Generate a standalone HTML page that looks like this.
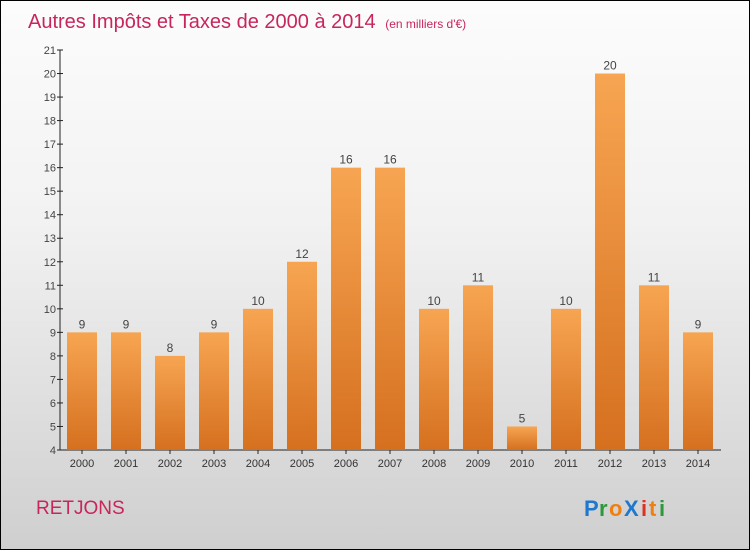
<!DOCTYPE html>
<html><head><meta charset="utf-8"><style>
body{margin:0}
#c{width:748px;height:548px;border:1px solid #000;background:linear-gradient(#fcfcfc,#f2f2f2 40%,#cfcfcf);position:relative;font-family:"Liberation Sans",sans-serif;overflow:hidden}
</style></head><body>
<div id="c">
<svg width="748" height="548" xmlns="http://www.w3.org/2000/svg">
<defs><linearGradient id="g" x1="0" y1="0" x2="0" y2="1"><stop offset="0" stop-color="#f7a552"/><stop offset="1" stop-color="#d5701f"/></linearGradient></defs>
<text x="27" y="27" font-size="20" fill="#c8265a">Autres Impôts et Taxes de 2000 à 2014 <tspan font-size="12" dx="4">(en milliers d'€)</tspan></text>
<text x="35" y="513" font-size="19" fill="#c8265a">RETJONS</text>
<g font-size="22" font-weight="bold"><text x="583" y="515" fill="#1f78d0">P</text><text x="598" y="515" fill="#2a9a3a">r</text><text x="608" y="515" fill="#f07f10">o</text><text x="623" y="515" fill="#1f78d0">X</text><text x="640" y="515" fill="#e03020">i</text><text x="648" y="515" fill="#f07f10">t</text><text x="658" y="515" fill="#2a9a3a">i</text></g>
<g id="plot"></g>
</svg>
</div>
<script>
const years=["2000","2001","2002","2003","2004","2005","2006","2007","2008","2009","2010","2011","2012","2013","2014"];
const values=[9,9,8,9,10,12,16,16,10,11,5,10,20,11,9];
const yTicks=[4,5,6,7,8,9,10,11,12,13,14,15,16,17,18,19,20,21];
const NS="http://www.w3.org/2000/svg";
const g=document.getElementById('plot');
const yMin=4,yMax=21,yTop=49,yBot=449;
const y=v=>yBot-(v-yMin)/(yMax-yMin)*(yBot-yTop);
const x=i=>81+i*44;
function mk(t,a,txt){const e=document.createElementNS(NS,t);for(const k in a)e.setAttribute(k,a[k]);if(txt!==undefined)e.textContent=txt;g.appendChild(e);return e;}
let ax=mk('line',{x1:59,y1:yTop,x2:59,y2:yBot,stroke:'#222'});


let bx=mk('line',{x1:59,y1:yBot,x2:720,y2:yBot,stroke:'#222'});


yTicks.forEach(t=>{
 mk('line',{x1:56,x2:62,y1:y(t),y2:y(t),stroke:'#222'});
 let l=mk('text',{x:55,y:y(t)+4,'font-size':11,fill:'#444','text-anchor':'end'},t);
 
 
});
years.forEach((yr,i)=>{
 const v=values[i];
 let r=mk('rect',{x:x(i)-15,y:y(v),width:30,height:yBot-y(v),fill:'url(#g)'});
 
 
 let vl=mk('text',{x:x(i),y:y(v)-4,'font-size':12,fill:'#444','text-anchor':'middle'},v);
 
 
 mk('line',{x1:x(i),x2:x(i),y1:yBot,y2:yBot+4,stroke:'#222'});
 let xl=mk('text',{x:x(i),y:466,'font-size':11,fill:'#333','text-anchor':'middle'},yr);
 
 
});
</script>
</body></html>
